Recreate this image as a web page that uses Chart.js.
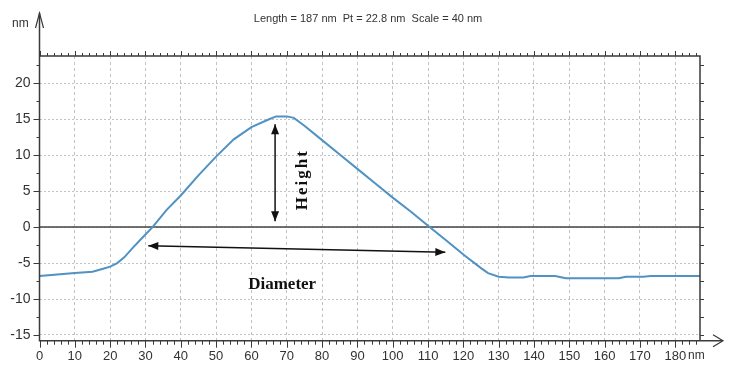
<!DOCTYPE html>
<html>
<head>
<meta charset="utf-8">
<script src="https://cdn.jsdelivr.net/npm/chart.js@4"></script>
<style>
  body { margin: 0; background: #fff; }
  canvas { display: block; }
</style>
</head>
<body>
<canvas id="profile-chart" width="733" height="373"></canvas>
<script>
// profile values (nm)
const profileX = [0, 5, 10, 15, 18, 20, 22, 24, 26, 28.5, 32, 36, 40, 45, 50, 55, 60, 65, 67, 70, 72, 75, 80, 85, 90, 95, 100, 105, 110, 115, 120, 125, 127, 130, 133, 137, 139, 146, 149, 155, 164, 166, 171, 173, 187];
const profileY = [-6.8, -6.6, -6.4, -6.2, -5.8, -5.5, -5.0, -4.2, -3.1, -1.8, 0, 2.4, 4.4, 7.2, 9.8, 12.2, 13.9, 15.0, 15.4, 15.4, 15.2, 14.1, 12.1, 10.1, 8.1, 6.1, 4.1, 2.2, 0.2, -1.8, -3.8, -5.7, -6.4, -6.9, -7.0, -7.0, -6.8, -6.8, -7.1, -7.1, -7.1, -6.9, -6.9, -6.8, -6.8];

const xTicks = [0, 10, 20, 30, 40, 50, 60, 70, 80, 90, 100, 110, 120, 130, 140, 150, 160, 170, 180];
const yTicks = [-15, -10, -5, 0, 5, 10, 15, 20];

const titleText = 'Length = 187 nm  Pt = 22.8 nm  Scale = 40 nm';
const unitText = 'nm';

// annotation arrows, in data units
const heightArrow = [66.7, 14.3, 66.7, 0.8];
const heightLabel = { text: 'Height', x: 74.6, y: 6.6 };
const diameterArrow = [30.8, -2.6, 114.9, -3.5];
const diameterLabel = { text: 'Diameter', x: 68.7, y: -8.0 };

const tickFont = '"Liberation Sans", Arial, sans-serif';
const axisColor = '#3a3a3a';

function head(ctx, x1, y1, x2, y2, len, half) {
    const a = Math.atan2(y2 - y1, x2 - x1);
    ctx.beginPath();
    ctx.moveTo(x2, y2);
    ctx.lineTo(x2 - len * Math.cos(a) + half * Math.sin(a), y2 - len * Math.sin(a) - half * Math.cos(a));
    ctx.lineTo(x2 - len * Math.cos(a) - half * Math.sin(a), y2 - len * Math.sin(a) + half * Math.cos(a));
    ctx.closePath();
    ctx.fill();
}

function doubleArrow(ctx, xs, ys, pts) {
    const x1 = xs.getPixelForValue(pts[0]), y1 = ys.getPixelForValue(pts[1]);
    const x2 = xs.getPixelForValue(pts[2]), y2 = ys.getPixelForValue(pts[3]);
    ctx.strokeStyle = '#111';
    ctx.fillStyle = '#111';
    ctx.lineWidth = 1.5;
    ctx.beginPath();
    ctx.moveTo(x1, y1);
    ctx.lineTo(x2, y2);
    ctx.stroke();
    head(ctx, x2, y2, x1, y1, 10, 4);
    head(ctx, x1, y1, x2, y2, 10, 4);
}

const zeroLine = {
    id: 'zeroLine',
    beforeDatasetsDraw(chart) {
        const { ctx, chartArea } = chart;
        const y0 = chart.scales.y.getPixelForValue(0);
        ctx.save();
        ctx.strokeStyle = '#444';
        ctx.lineWidth = 1.5;
        ctx.beginPath();
        ctx.moveTo(chartArea.left, y0);
        ctx.lineTo(chartArea.right, y0);
        ctx.stroke();
        ctx.restore();
    }
};

const frame = {
    id: 'frame',
    afterDraw(chart) {
        const { ctx, chartArea } = chart;
        const { left, right, top, bottom } = chartArea;
        const xs = chart.scales.x, ys = chart.scales.y;
        ctx.save();
        ctx.strokeStyle = axisColor;
        ctx.lineWidth = 1.5;

        // axis lines + border
        ctx.beginPath();
        ctx.moveTo(left, 13);
        ctx.lineTo(left, bottom);
        ctx.lineTo(722, bottom);
        ctx.moveTo(left, top);
        ctx.lineTo(right, top);
        ctx.lineTo(right, bottom);
        ctx.stroke();

        // chevrons
        ctx.lineWidth = 1.2;
        ctx.beginPath();
        ctx.moveTo(left - 4, 28);
        ctx.lineTo(left, 13);
        ctx.lineTo(left + 4, 28);
        ctx.moveTo(713, bottom - 6);
        ctx.lineTo(723, bottom);
        ctx.lineTo(713, bottom + 6);
        ctx.stroke();

        // small ticks
        ctx.lineWidth = 1;
        ctx.beginPath();
        for (let v = 0; v <= 186; v += 2) {
            const px = Math.round(xs.getPixelForValue(v)) + 0.5;
            const major = v % 10 === 0;
            ctx.moveTo(px, bottom);
            ctx.lineTo(px, bottom + (major ? 7 : 4));
            ctx.moveTo(px, top);
            ctx.lineTo(px, top - (major ? 5 : 3));
        }
        for (let v = -15; v <= 22.5; v += 2.5) {
            const py = Math.round(ys.getPixelForValue(v)) + 0.5;
            const major = v % 5 === 0;
            ctx.moveTo(left, py);
            ctx.lineTo(left - (major ? 6 : 3), py);
            ctx.moveTo(right, py);
            ctx.lineTo(right + 4, py);
        }
        ctx.stroke();

        // texts
        ctx.fillStyle = '#333';
        ctx.font = '11px ' + tickFont;
        ctx.textAlign = 'center';
        ctx.textBaseline = 'middle';
        ctx.fillText(titleText, 368, 19);
        ctx.textAlign = 'left';
        ctx.font = '12px ' + tickFont;
        ctx.fillText(unitText, 12, 24);
        ctx.fillText(unitText, 688, bottom + 15);

        // annotations
        doubleArrow(ctx, xs, ys, heightArrow);
        doubleArrow(ctx, xs, ys, diameterArrow);
        ctx.fillStyle = '#111';
        ctx.font = 'bold 17px "Liberation Serif", "Times New Roman", serif';
        ctx.textAlign = 'center';
        ctx.fillText(diameterLabel.text, xs.getPixelForValue(diameterLabel.x), ys.getPixelForValue(diameterLabel.y));
        ctx.translate(xs.getPixelForValue(heightLabel.x), ys.getPixelForValue(heightLabel.y));
        ctx.rotate(-Math.PI / 2);
        ctx.letterSpacing = '2px';
        ctx.fillText(heightLabel.text, 0, 0);
        ctx.restore();
    }
};

const points = profileX.map((x, i) => ({ x: x, y: profileY[i] }));

new Chart(document.getElementById('profile-chart'), {
    type: 'line',
    data: {
        datasets: [{
            data: points,
            borderColor: '#4f92c4',
            borderWidth: 2,
            pointRadius: 0,
            tension: 0,
            fill: false
        }]
    },
    options: {
        responsive: false,
        animation: false,
        devicePixelRatio: 1,
        layout: { padding: { top: 56, right: 33, left: 0, bottom: 0 } },
        plugins: { legend: { display: false }, tooltip: { enabled: false } },
        scales: {
            x: {
                type: 'linear',
                min: 0,
                max: 187,
                afterBuildTicks: scale => { scale.ticks = xTicks.map(v => ({ value: v })); },
                afterFit: scale => { scale.height = 32.3; },
                ticks: { color: '#333', padding: 8, maxRotation: 0, autoSkip: false, font: { family: tickFont, size: 13 } },
                grid: { color: '#c2c2c2', lineWidth: 1, drawTicks: false },
                border: { display: false, dash: [3, 3] }
            },
            y: {
                min: -15.8,
                max: 23.8,
                afterBuildTicks: scale => { scale.ticks = yTicks.map(v => ({ value: v })); },
                afterFit: scale => { scale.width = 39.5; },
                ticks: { color: '#333', padding: 9, autoSkip: false, font: { family: tickFont, size: 14 } },
                grid: { color: '#c2c2c2', lineWidth: 1, drawTicks: false },
                border: { display: false, dash: [2, 2] }
            }
        }
    },
    plugins: [zeroLine, frame]
});
</script>
</body>
</html>
